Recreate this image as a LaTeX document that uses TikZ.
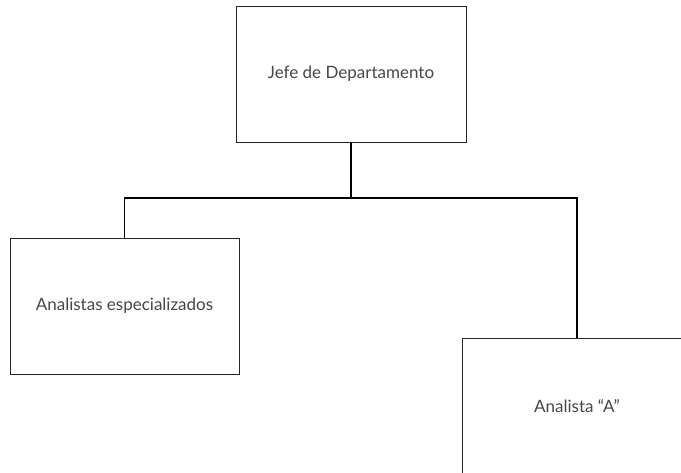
\documentclass[tikz,border=0pt]{standalone}
\usepackage{fontspec}
\setmainfont{Lato}
\begin{document}
\begin{tikzpicture}[x=1pt,y=-1pt,
  orgbox/.style={draw=black!85,line width=0.9pt,minimum width=230pt,minimum height=136pt,inner sep=0pt,
    font=\fontsize{17}{20}\selectfont,text=black!72},
  link/.style={draw=black,line width=1.9pt}]
\useasboundingbox (0,0) rectangle (681,472);
\clip (0,0) rectangle (681,472);
\fill[white] (0,0) rectangle (681,472);
\node[orgbox] (top) at (351,74) {Jefe de Departamento};
\node[orgbox,minimum width=229pt] (left) at (124.5,306) {Analistas especializados};
\node[orgbox] (right) at (577,406) {Analista “A”};
\coordinate (j) at (351,198);
\draw[link] (top.south) -- (j);
\draw[link] (left.north) |- (j);
\draw[link] (right.north) |- (j);
\end{tikzpicture}
\end{document}
